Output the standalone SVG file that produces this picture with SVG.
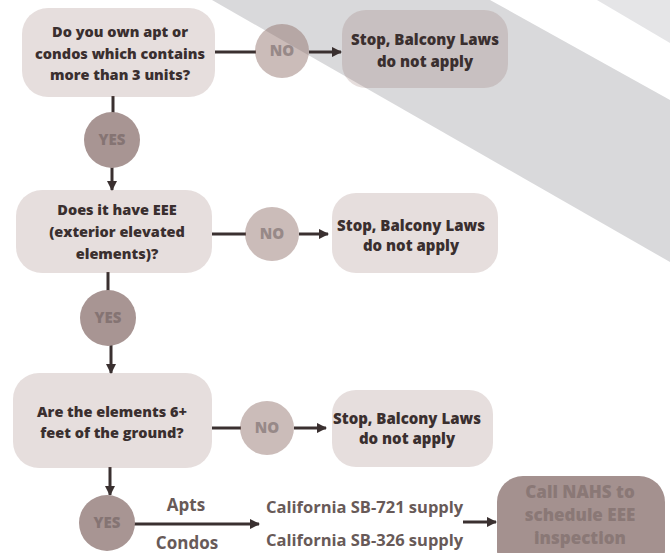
<svg xmlns="http://www.w3.org/2000/svg" width="670" height="553" viewBox="0 0 670 553">
<defs>
<style>
.q{fill:#8c6a64;fill-opacity:0.22}
.no{fill:#8c6a64;fill-opacity:0.45}
.yes{fill:#a89593}
.fin{fill:#a4918f}
.t{font-family:"Open Sans","Liberation Sans",sans-serif;font-weight:800;font-size:14.5px;fill:#3a2f2f;text-anchor:middle}
.ts{font-family:"Open Sans","Liberation Sans",sans-serif;font-weight:800;font-size:15px;fill:#3a2f2f;text-anchor:middle}
.tn{font-family:"Open Sans","Liberation Sans",sans-serif;font-weight:800;font-size:15px;fill:#978988;text-anchor:middle}
.ty{font-family:"Open Sans","Liberation Sans",sans-serif;font-weight:800;font-size:15px;fill:#857473;text-anchor:middle}
.tf{font-family:"Open Sans","Liberation Sans",sans-serif;font-weight:800;font-size:17px;fill:#8a7876;text-anchor:middle}
.tl{font-family:"Open Sans","Liberation Sans",sans-serif;font-weight:700;font-size:17px;fill:#685a58;text-anchor:middle}
.tc{font-family:"Open Sans","Liberation Sans",sans-serif;font-weight:700;font-size:16.5px;fill:#685a58}
.c{stroke:#3a3030;stroke-width:3;fill:none}
.a{stroke:#3a3030;stroke-width:3;fill:none;marker-end:url(#ah)}
</style>
<marker id="ah" viewBox="0 0 10 10" refX="9" refY="5" markerWidth="3.5" markerHeight="3.5" orient="auto" markerUnits="strokeWidth">
<path d="M0,0 L10,5 L0,10 z" fill="#3a3030"/>
</marker>
</defs>
<rect width="670" height="553" fill="#ffffff"/>
<g id="background">
<polygon points="212,0 490,0 670,100 670,262" fill="#d9d9db"/>
<polygon points="597,0 670,0 670,43" fill="#e5e5e7"/>
</g>
<g id="connectors">
<line class="c" x1="215" y1="52" x2="256" y2="52"/>
<line class="a" x1="309" y1="52" x2="341" y2="52"/>
<line class="c" x1="113" y1="96" x2="113" y2="114"/>
<line class="a" x1="112" y1="167" x2="112" y2="190"/>
<line class="c" x1="212" y1="234" x2="246" y2="234"/>
<line class="a" x1="299" y1="234" x2="328" y2="234"/>
<line class="c" x1="108" y1="272" x2="108" y2="292"/>
<line class="a" x1="111" y1="345" x2="111" y2="373"/>
<line class="c" x1="212" y1="428" x2="241" y2="428"/>
<line class="a" x1="294" y1="428" x2="326" y2="428"/>
<line class="a" x1="110" y1="467" x2="110" y2="495"/>
<line class="a" x1="134" y1="524" x2="259" y2="524"/>
<line class="a" x1="463" y1="522" x2="496" y2="522"/>
</g>
<g id="q1">
<rect class="q" x="22" y="8" width="193" height="89" rx="26"/>
<text class="t" x="120" y="37">Do you own apt or</text>
<text class="t" x="120" y="58.5">condos which contains</text>
<text class="t" x="120" y="80">more than 3 units?</text>
</g>
<g id="no1">
<circle class="no" cx="282" cy="51" r="27"/>
<text class="tn" x="282" y="56">NO</text>
</g>
<g id="stop1">
<rect class="q" x="342" y="10" width="166" height="78" rx="24"/>
<text class="ts" x="425" y="45">Stop, Balcony Laws</text>
<text class="ts" x="425" y="67">do not apply</text>
</g>
<g id="yes1">
<circle class="yes" cx="112" cy="140" r="28"/>
<text class="ty" x="112" y="145">YES</text>
</g>
<g id="q2">
<rect class="q" x="16" y="190" width="196" height="83" rx="26"/>
<text class="t" x="117" y="215">Does it have EEE</text>
<text class="t" x="117" y="237">(exterior elevated</text>
<text class="t" x="117" y="259">elements)?</text>
</g>
<g id="no2">
<circle class="no" cx="272" cy="234" r="27"/>
<text class="tn" x="272" y="239">NO</text>
</g>
<g id="stop2">
<rect class="q" x="332" y="193" width="166" height="80" rx="24"/>
<text class="ts" x="411" y="231">Stop, Balcony Laws</text>
<text class="ts" x="411" y="251">do not apply</text>
</g>
<g id="yes2">
<circle class="yes" cx="108" cy="318" r="28"/>
<text class="ty" x="108" y="323">YES</text>
</g>
<g id="q3">
<rect class="q" x="13" y="373" width="199" height="95" rx="26"/>
<text class="t" x="112" y="417">Are the elements 6+</text>
<text class="t" x="112" y="438">feet of the ground?</text>
</g>
<g id="no3">
<circle class="no" cx="267" cy="428" r="27"/>
<text class="tn" x="267" y="433">NO</text>
</g>
<g id="stop3">
<rect class="q" x="332" y="390" width="161" height="77" rx="24"/>
<text class="ts" x="407" y="424">Stop, Balcony Laws</text>
<text class="ts" x="407" y="444">do not apply</text>
</g>
<g id="yes3">
<circle class="yes" cx="107" cy="523" r="28"/>
<text class="ty" x="107" y="528">YES</text>
</g>
<g id="labels">
<text class="tl" x="186" y="511">Apts</text>
<text class="tl" x="187" y="549">Condos</text>
<text class="tc" x="266" y="513">California SB-721 supply</text>
<text class="tc" x="266" y="546">California SB-326 supply</text>
</g>
<g id="final">
<rect class="fin" x="497" y="476" width="168" height="100" rx="26"/>
<text class="tf" x="580" y="498">Call NAHS to</text>
<text class="tf" x="580" y="521">schedule EEE</text>
<text class="tf" x="580" y="544">inspection</text>
</g>
</svg>
